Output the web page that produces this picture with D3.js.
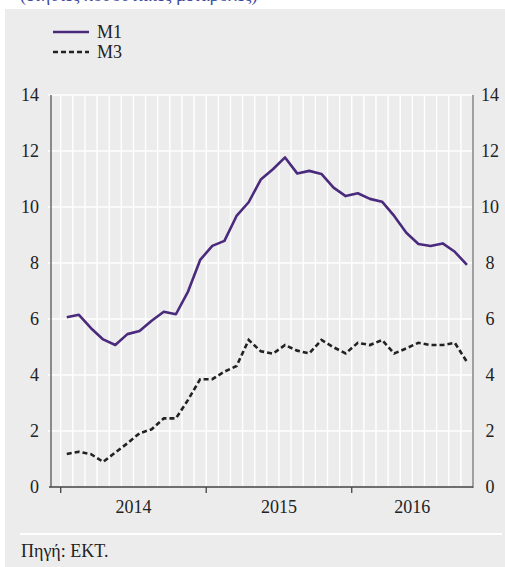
<!DOCTYPE html>
<html>
<head>
<meta charset="utf-8">
<script src="https://cdn.jsdelivr.net/npm/d3@7"></script>
<style>
	html, body { margin: 0; padding: 0; background: #fff; }
	svg { display: block; }
	svg text { font-family: "Liberation Serif", "Times New Roman", Times, serif; }
</style>
</head>
<body>
<div id="chart"></div>
<script>
// monthly values, Jan 2014 .. Oct 2016 (annual % change)
const m1 = [6.06, 6.15, 5.67, 5.27, 5.07, 5.46, 5.57, 5.94, 6.26, 6.17, 6.98, 8.11,
	8.61, 8.79, 9.68, 10.17, 10.98, 11.35, 11.77, 11.2, 11.29, 11.18, 10.69, 10.39,
	10.49, 10.29, 10.19, 9.68, 9.08, 8.68, 8.61, 8.70, 8.40, 7.93];
const m3 = [1.18, 1.26, 1.17, 0.90, 1.23, 1.56, 1.92, 2.06, 2.45, 2.45, 3.11, 3.85,
	3.85, 4.12, 4.32, 5.25, 4.85, 4.76, 5.07, 4.87, 4.77, 5.25, 4.99, 4.77,
	5.15, 5.07, 5.25, 4.77, 4.95, 5.15, 5.07, 5.07, 5.15, 4.47];
const years = ["2014", "2015", "2016"];
const yearStarts = [0, 12, 24];
const lastMonth = 34;
const yTicks = [0, 2, 4, 6, 8, 10, 12, 14];
const seriesNames = ["M1", "M3"];

const serif = "'Liberation Serif', 'Times New Roman', Times, serif";
const width = 505, height = 567;
const svg = d3.select("#chart").append("svg")
	.attr("width", width)
	.attr("height", height)
	.attr("font-family", serif);

// panel background
svg.append("rect")
	.attr("x", 5).attr("y", 9)
	.attr("width", width - 5).attr("height", height - 9)
	.attr("fill", "#ececec");

// cut-off subtitle at the very top (only its descenders show)
svg.append("text")
	.attr("x", 20).attr("y", 1)
	.attr("font-size", 18)
	.attr("fill", "#3d4a9e")
	.text("(ετήσιες ποσοστιαίες μεταβολές)");

const x = d3.scaleLinear().domain([-0.8, lastMonth]).range([51, 473]);
const y = d3.scaleLinear().domain([0, 14]).range([487, 95]);

// gridlines
svg.append("g")
	.selectAll("line")
	.data(d3.range(0, lastMonth))
	.join("line")
	.attr("x1", (d) => x(d)).attr("x2", (d) => x(d))
	.attr("y1", y(14)).attr("y2", y(0))
	.attr("stroke", "#fff")
	.attr("stroke-width", 1.4);

svg.append("g")
	.selectAll("line")
	.data(yTicks.filter((d) => d > 0))
	.join("line")
	.attr("x1", 48).attr("x2", 472)
	.attr("y1", (d) => y(d)).attr("y2", (d) => y(d))
	.attr("stroke", "#fff")
	.attr("stroke-width", 1.6);

// axes lines
svg.append("line")
	.attr("x1", 51).attr("x2", 51)
	.attr("y1", y(14)).attr("y2", y(0))
	.attr("stroke", "#555").attr("stroke-width", 1.3);
svg.append("line")
	.attr("x1", 473).attr("x2", 473)
	.attr("y1", y(14)).attr("y2", y(0) + 1)
	.attr("stroke", "#777").attr("stroke-width", 1.3);
svg.append("line")
	.attr("x1", 49).attr("x2", 473)
	.attr("y1", y(0)).attr("y2", y(0))
	.attr("stroke", "#444").attr("stroke-width", 1.3);

// year ticks
svg.append("g")
	.selectAll("line")
	.data(yearStarts)
	.join("line")
	.attr("x1", (d) => x(d)).attr("x2", (d) => x(d))
	.attr("y1", y(0)).attr("y2", y(0) + 6)
	.attr("stroke", "#444").attr("stroke-width", 1.3);

// year labels, centred in the visible part of each year
svg.append("g")
	.selectAll("text")
	.data(years)
	.join("text")
	.attr("x", (d, i) => (x(yearStarts[i]) + x(Math.min(yearStarts[i] + 12, lastMonth))) / 2)
	.attr("y", 513)
	.attr("text-anchor", "middle")
	.attr("font-size", 18)
	.attr("fill", "#222")
	.text((d) => d);

// y labels, left and right
svg.append("g")
	.selectAll("text")
	.data(yTicks)
	.join("text")
	.attr("x", 39)
	.attr("y", (d) => y(d))
	.attr("dy", "0.35em")
	.attr("text-anchor", "end")
	.attr("font-size", 18)
	.attr("fill", "#222")
	.text((d) => d);

svg.append("g")
	.selectAll("text")
	.data(yTicks)
	.join("text")
	.attr("x", 490)
	.attr("y", (d) => y(d))
	.attr("dy", "0.35em")
	.attr("text-anchor", "middle")
	.attr("font-size", 18)
	.attr("fill", "#222")
	.text((d) => d);

// series lines
const line = d3.line()
	.x((d, i) => x(i + 0.5))
	.y((d) => y(d));

svg.append("path")
	.datum(m3)
	.attr("d", line)
	.attr("fill", "none")
	.attr("stroke", "#222")
	.attr("stroke-width", 2.6)
	.attr("stroke-dasharray", "5,3");

svg.append("path")
	.datum(m1)
	.attr("d", line)
	.attr("fill", "none")
	.attr("stroke", "#4a2a7c")
	.attr("stroke-width", 2.6)
	.attr("stroke-linejoin", "round");

// legend
const legend = svg.append("g");
seriesNames.forEach((name, i) => {
	const ly = 32 + i * 20;
	legend.append("line")
		.attr("x1", 53).attr("x2", 89)
		.attr("y1", ly).attr("y2", ly)
		.attr("stroke", i === 0 ? "#4a2a7c" : "#222")
		.attr("stroke-width", 2.6)
		.attr("stroke-dasharray", i === 0 ? null : "5,3");
	legend.append("text")
		.attr("x", 97).attr("y", ly)
		.attr("dy", "0.35em")
		.attr("font-size", 18)
		.attr("fill", "#222")
		.text(name);
});

// separator and source
svg.append("line")
	.attr("x1", 20).attr("x2", 502)
	.attr("y1", 534).attr("y2", 534)
	.attr("stroke", "#fff").attr("stroke-width", 2);

svg.append("text")
	.attr("x", 21).attr("y", 557)
	.attr("font-size", 18)
	.attr("fill", "#222")
	.text("Πηγή: EKT.");
</script>
</body>
</html>
